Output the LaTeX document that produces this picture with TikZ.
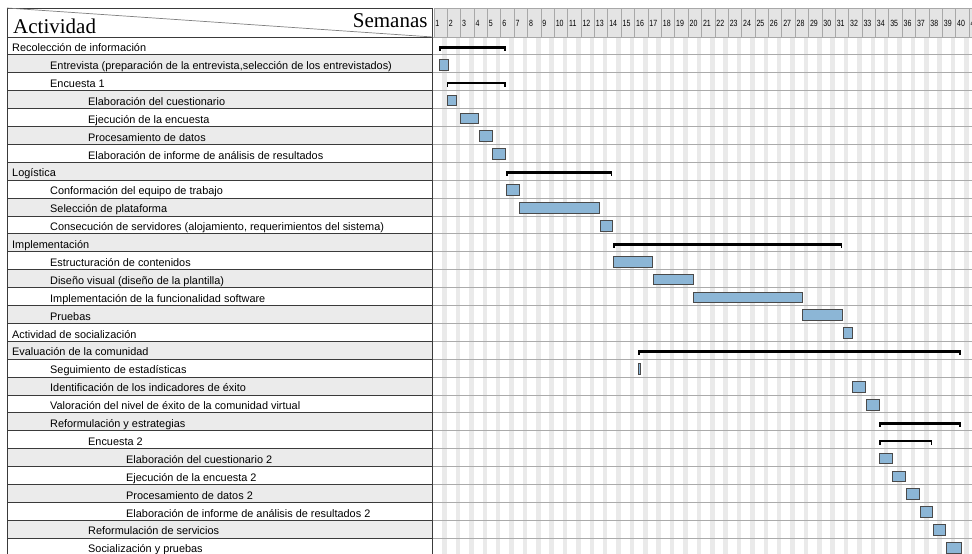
\documentclass[tikz,border=0pt]{standalone}
\usepackage{fontspec}
\setmainfont{Liberation Sans}
\newfontfamily\headfont{Liberation Serif}
\newfontfamily\numfont[FakeStretch=0.78]{Liberation Sans}
\definecolor{rowgray}{HTML}{EBEBEB}
\definecolor{gridline}{HTML}{ABABAB}
\definecolor{stripe}{HTML}{EAEAEA}
\definecolor{hdrfill}{HTML}{E4E4E4}
\definecolor{hdrline}{HTML}{A8A8A8}
\definecolor{barfill}{HTML}{8CB6D6}
\definecolor{barline}{HTML}{4A4A4A}
\definecolor{frame}{HTML}{3A3A3A}
\begin{document}
\begin{tikzpicture}[x=1pt,y=-1pt,
  lbl/.style={anchor=base west,inner sep=0pt,font=\fontsize{10.9}{12}\selectfont},
  wknum/.style={anchor=base west,inner sep=0pt,font=\numfont\fontsize{9}{10}\selectfont},
  taskbar/.style={draw=barline,fill=barfill,line width=0.8pt},
  summary/.style={fill=black},
]
\useasboundingbox (0,0) rectangle (972,554);
\clip (0,0) rectangle (972,554);

% alternating shading of the activity column
\foreach \r in {1,3,...,27}{
  \pgfmathsetmacro\t{37+\r*17.9}
  \fill[rowgray] (7,\t) rectangle (432.7,\t+17.9);
}

% weekend stripes of the time grid
\foreach \k in {0,...,40}{
  \pgfmathsetmacro\wl{433.9+\k*13.38}
  \fill[stripe] (\wl+8.5,37) rectangle (\wl+13.0,554);
}

% row separators
\foreach \r in {0,...,29}{
  \pgfmathsetmacro\t{37+\r*17.9}
  \draw[gridline,line width=0.9pt] (432.7,\t) -- (972,\t);
  \draw[frame,line width=1pt] (7,\t) -- (432.7,\t);
}
\draw[frame,line width=1pt] (7,8) -- (7,554);
\draw[frame,line width=1pt] (432.7,8) -- (432.7,554);

% header: activity cell
\draw[frame,line width=1pt,fill=white] (7,8) rectangle (432.7,37);
\draw[gray,line width=0.7pt] (7,8) -- (432.7,37);
\node[anchor=base west,inner sep=0pt,font=\headfont\fontsize{21}{24}\selectfont] (hact) at (13,33.3) {Actividad};
\node[anchor=base east,inner sep=0pt,font=\headfont\fontsize{21}{24}\selectfont] (hsem) at (427.7,27.7) {Semanas};

% header: week cells
\foreach \k in {0,...,40}{
  \pgfmathsetmacro\wl{433.9+\k*13.38}
  \pgfmathtruncatemacro\n{\k+1}
  \draw[hdrline,fill=hdrfill,line width=0.7pt] (\wl,8) rectangle (\wl+13.38,37);
  \node[wknum] (w\n) at (\wl+1.3,26.6) {\n};
}

% summary brackets: row / start / end
\foreach \r/\a/\b in {0/439/505.7, 2/446.7/505.7, 7/506/612.3, 11/613.3/842.3,
                      17/638.3/961, 21/879.3/961, 22/879.3/932.3}{
  \pgfmathsetmacro\t{37+\r*17.9}
  \fill[summary] (\a,\t+8.7) rectangle (\b,\t+11.6);
  \fill[summary] (\a,\t+8.7) rectangle (\a+1.7,\t+14);
  \fill[summary] (\b-1.7,\t+8.7) rectangle (\b,\t+14);
}

% task bars: row / start / end
\foreach \r/\a/\b in {1/439/448.3, 3/447/456.3, 4/460.3/478.7, 5/479.3/492,
                      6/492.7/505.7, 8/506/519, 9/519.5/599.3, 10/600/612.3,
                      12/613.3/652.7, 13/653.3/693, 14/693.7/802, 15/802.7/842.3,
                      16/843.3/852, 18/638.3/640.3, 19/852.3/865.7, 20/866/879,
                      23/879.3/892.3, 24/892.7/905.7, 25/906.7/919, 26/920/932.3,
                      27/933.3/945.7, 28/946.7/961.3}{
  \pgfmathsetmacro\t{37+\r*17.9}
  \draw[taskbar] (\a,\t+4.3) rectangle (\b,\t+15.1);
}

% activity labels (baseline at row top + 14.6, indent 38 per level)
\node[lbl] (a0)  at (12, 51.6)  {Recolección de información};
\node[lbl] (a1)  at (50, 69.5)  {Entrevista (preparación de la entrevista,selección de los entrevistados)};
\node[lbl] (a2)  at (50, 87.4)  {Encuesta 1};
\node[lbl] (a3)  at (88, 105.3) {Elaboración del cuestionario};
\node[lbl] (a4)  at (88, 123.2) {Ejecución de la encuesta};
\node[lbl] (a5)  at (88, 141.1) {Procesamiento de datos};
\node[lbl] (a6)  at (88, 159.0) {Elaboración de informe de análisis de resultados};
\node[lbl] (a7)  at (12, 176.9) {Logística};
\node[lbl] (a8)  at (50, 194.8) {Conformación del equipo de trabajo};
\node[lbl] (a9)  at (50, 212.7) {Selección de plataforma};
\node[lbl] (a10) at (50, 230.6) {Consecución de servidores (alojamiento, requerimientos del sistema)};
\node[lbl] (a11) at (12, 248.5) {Implementación};
\node[lbl] (a12) at (50, 266.4) {Estructuración de contenidos};
\node[lbl] (a13) at (50, 284.3) {Diseño visual (diseño de la plantilla)};
\node[lbl] (a14) at (50, 302.2) {Implementación de la funcionalidad software};
\node[lbl] (a15) at (50, 320.1) {Pruebas};
\node[lbl] (a16) at (12, 338.0) {Actividad de socialización};
\node[lbl] (a17) at (12, 355.9) {Evaluación de la comunidad};
\node[lbl] (a18) at (50, 373.8) {Seguimiento de estadísticas};
\node[lbl] (a19) at (50, 391.7) {Identificación de los indicadores de éxito};
\node[lbl] (a20) at (50, 409.6) {Valoración del nivel de éxito de la comunidad virtual};
\node[lbl] (a21) at (50, 427.5) {Reformulación y estrategias};
\node[lbl] (a22) at (88, 445.4) {Encuesta 2};
\node[lbl] (a23) at (126,463.3) {Elaboración del cuestionario 2};
\node[lbl] (a24) at (126,481.2) {Ejecución de la encuesta 2};
\node[lbl] (a25) at (126,499.1) {Procesamiento de datos 2};
\node[lbl] (a26) at (126,517.0) {Elaboración de informe de análisis de resultados 2};
\node[lbl] (a27) at (88, 534.9) {Reformulación de servicios};
\node[lbl] (a28) at (88, 552.8) {Socialización y pruebas};
\end{tikzpicture}
\end{document}
